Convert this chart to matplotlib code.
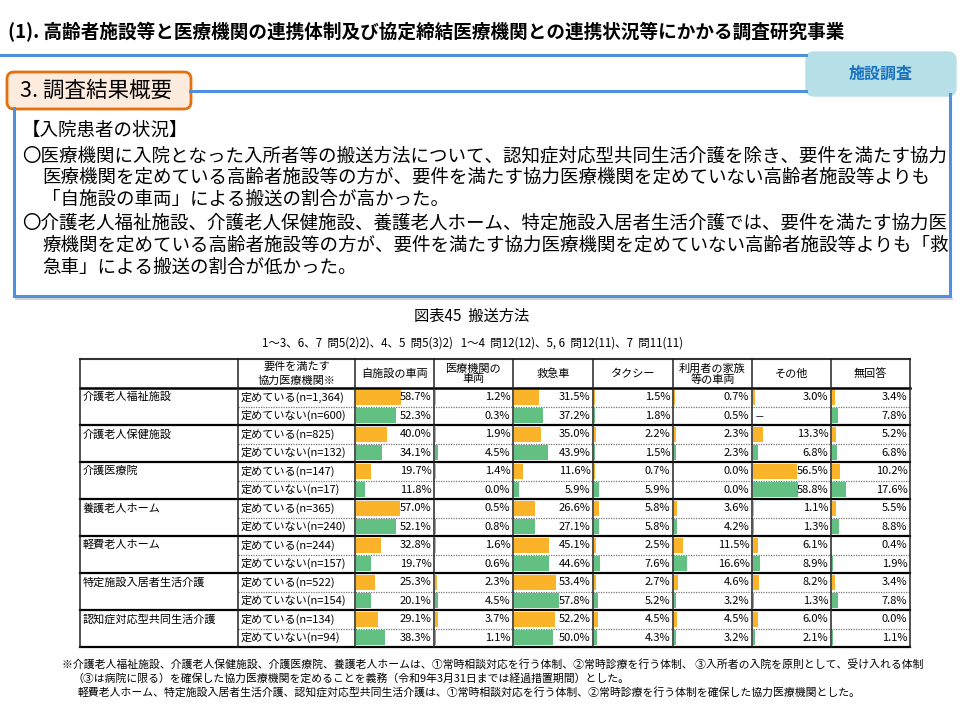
import matplotlib.pyplot as plt
from matplotlib.patches import FancyBboxPatch

plt.rcParams["font.family"] = ["Noto Sans CJK JP", "DejaVu Sans"]

# ---- data -------------------------------------------------------------
facilities = ["介護老人福祉施設", "介護老人保健施設", "介護医療院", "養護老人ホーム",
              "軽費老人ホーム", "特定施設入居者生活介護", "認知症対応型共同生活介護"]
n_yes = ["1,364", "825", "147", "365", "244", "522", "134"]
n_no = ["600", "132", "17", "240", "157", "154", "94"]

methods = ["自施設の車両", "医療機関の\n車両", "救急車", "タクシー",
           "利用者の家族\n等の車両", "その他", "無回答"]

own_vehicle = [58.7, 52.3, 40.0, 34.1, 19.7, 11.8, 57.0, 52.1, 32.8, 19.7, 25.3, 20.1, 29.1, 38.3]
med_vehicle = [1.2, 0.3, 1.9, 4.5, 1.4, 0.0, 0.5, 0.8, 1.6, 0.6, 2.3, 4.5, 3.7, 1.1]
ambulance = [31.5, 37.2, 35.0, 43.9, 11.6, 5.9, 26.6, 27.1, 45.1, 44.6, 53.4, 57.8, 52.2, 50.0]
taxi = [1.5, 1.8, 2.2, 1.5, 0.7, 5.9, 5.8, 5.8, 2.5, 7.6, 2.7, 5.2, 4.5, 4.3]
family_vehicle = [0.7, 0.5, 2.3, 2.3, 0.0, 0.0, 3.6, 4.2, 11.5, 16.6, 4.6, 3.2, 4.5, 3.2]
other = [3.0, None, 13.3, 6.8, 56.5, 58.8, 1.1, 1.3, 6.1, 8.9, 8.2, 1.3, 6.0, 2.1]
no_answer = [3.4, 7.8, 5.2, 6.8, 10.2, 17.6, 5.5, 8.8, 0.4, 1.9, 3.4, 7.8, 0.0, 1.1]

columns = [own_vehicle, med_vehicle, ambulance, taxi, family_vehicle, other, no_answer]

ORANGE = "#FBB42A"
GREEN = "#62C182"
BLUE = "#4F8FDC"

W, H = 960, 720
fig = plt.figure(figsize=(W / 100, H / 100), dpi=100)
ax = fig.add_axes([0, 0, 1, 1])
ax.set_xlim(0, W)
ax.set_ylim(H, 0)
ax.axis("off")

# ---- header decoration ------------------------------------------------
ax.text(8, 32, "(1). 高齢者施設等と医療機関の連携体制及び協定締結医療機関との連携状況等にかかる調査研究事業",
        fontsize=13.4, fontweight="bold", va="center", ha="left")
ax.plot([0, 806], [55, 55], color=BLUE, lw=2.2)
ax.plot([190, 806], [91, 91], color=BLUE, lw=2.2)
ax.plot([14, 14], [108, 296], color=BLUE, lw=2.2)
ax.plot([950, 950], [94, 296], color=BLUE, lw=2.2)
ax.plot([14, 950], [296, 296], color=BLUE, lw=2.2)
ax.plot([16, 952], [299, 299], color="#c8c8c8", lw=1.2)

ax.add_patch(FancyBboxPatch((806, 52), 150, 44, boxstyle="round,pad=0,rounding_size=8",
                            fc="#B7DFE8", ec="#B7DFE8", lw=1))
ax.text(881, 74, "施設調査", fontsize=11.5, fontweight="bold", color="#1A73C0",
        ha="center", va="center")

ax.add_patch(FancyBboxPatch((7, 72), 184, 37, boxstyle="round,pad=0,rounding_size=7",
                            fc="#FDEBDD", ec="#E4700F", lw=2))
ax.text(20, 91, "3. 調査結果概要", fontsize=15.5, ha="left", va="center")

body = [
    (22, 131, "【入院患者の状況】"),
    (22, 156, "〇医療機関に入院となった入所者等の搬送方法について、認知症対応型共同生活介護を除き、要件を満たす協力"),
    (42, 178, "医療機関を定めている高齢者施設等の方が、要件を満たす協力医療機関を定めていない高齢者施設等よりも"),
    (42, 200, "「自施設の車両」による搬送の割合が高かった。"),
    (22, 223, "〇介護老人福祉施設、介護老人保健施設、養護老人ホーム、特定施設入居者生活介護では、要件を満たす協力医"),
    (42, 246, "療機関を定めている高齢者施設等の方が、要件を満たす協力医療機関を定めていない高齢者施設等よりも「救"),
    (42, 268, "急車」による搬送の割合が低かった。"),
]
for x, y, s in body:
    ax.text(x, y, s, fontsize=13.3, ha="left", va="center")

# ---- chart titles -----------------------------------------------------
ax.text(472, 316, "図表45  搬送方法", fontsize=11, ha="center", va="center")
ax.text(472, 343, "1～3、6、7  問5(2)2)、4、5  問5(3)2)   1～4  問12(12)、5, 6  問12(11)、7  問11(11)",
        fontsize=8.3, ha="center", va="center")

# ---- table grid -------------------------------------------------------
col_x = [80, 238, 355, 434, 513, 593, 673, 752, 831, 910]
top, head_bot, bottom = 359, 388, 647
n_rows = 2 * len(facilities)
row_h = (bottom - head_bot) / n_rows

ax.plot([col_x[0], col_x[-1]], [top, top], color="#333333", lw=1.5)
ax.plot([col_x[0], col_x[-1]], [head_bot, head_bot], color="black", lw=1.8)
for g in range(1, len(facilities) + 1):
    y = head_bot + 2 * g * row_h
    ax.plot([col_x[0], col_x[-1]], [y, y], color="black", lw=1.6)
for g in range(len(facilities)):
    y = head_bot + (2 * g + 1) * row_h
    ax.plot([col_x[1], col_x[-1]], [y, y], color="#777777", lw=0.9, ls=(0, (1, 1)))
for x in col_x:
    ax.plot([x, x], [top, bottom], color="#222222", lw=1.1)

ax.text((col_x[1] + col_x[2]) / 2, 367, "要件を満たす", fontsize=8, ha="center", va="center")
ax.text((col_x[1] + col_x[2]) / 2, 381, "協力医療機関※", fontsize=8, ha="center", va="center")
for i, m in enumerate(methods):
    cx = (col_x[i + 2] + col_x[i + 3]) / 2
    ax.text(cx, 374, m, fontsize=8, ha="center", va="center", linespacing=1.05)

for g, fac in enumerate(facilities):
    y0 = head_bot + 2 * g * row_h + row_h / 2
    ax.text(col_x[0] + 3, y0, fac, fontsize=8, ha="left", va="center")
    ax.text(col_x[1] + 3, y0, f"定めている(n={n_yes[g]})", fontsize=8, ha="left", va="center")
    ax.text(col_x[1] + 3, y0 + row_h, f"定めていない(n={n_no[g]})", fontsize=8,
            ha="left", va="center")

# ---- bars: one axes per method column ---------------------------------
rows = list(range(n_rows))
bar_colors = [ORANGE if r % 2 == 0 else GREEN for r in rows]
for i, vals in enumerate(columns):
    x0, x1 = col_x[i + 2] + 1, col_x[i + 3] - 1
    cax = fig.add_axes([x0 / W, 1 - bottom / H, (x1 - x0) / W, (bottom - head_bot) / H])
    cax.set_xlim(0, 100)
    cax.set_ylim(n_rows - 0.5, -0.5)
    cax.axis("off")
    cax.patch.set_alpha(0)
    shown = [v if v is not None else 0 for v in vals]
    cax.barh(rows, shown, height=0.82, color=bar_colors, edgecolor="none")
    for r, v in enumerate(vals):
        if v is None:
            cax.text(2, r, "－", fontsize=7, ha="left", va="center")
        else:
            cax.text(98, r, f"{v:.1f}%", fontsize=8, ha="right", va="center")

# ---- footnotes --------------------------------------------------------
notes = [
    (62, 664, "※介護老人福祉施設、介護老人保健施設、介護医療院、養護老人ホームは、①常時相談対応を行う体制、②常時診療を行う体制、 ③入所者の入院を原則として、受け入れる体制"),
    (72, 678, "（③は病院に限る）を確保した協力医療機関を定めることを義務（令和9年3月31日までは経過措置期間）とした。"),
    (78, 692, "軽費老人ホーム、特定施設入居者生活介護、認知症対応型共同生活介護は、①常時相談対応を行う体制、②常時診療を行う体制を確保した協力医療機関とした。"),
]
for x, y, s in notes:
    ax.text(x, y, s, fontsize=7.8, ha="left", va="center")

fig.savefig("out.png", dpi=100)
